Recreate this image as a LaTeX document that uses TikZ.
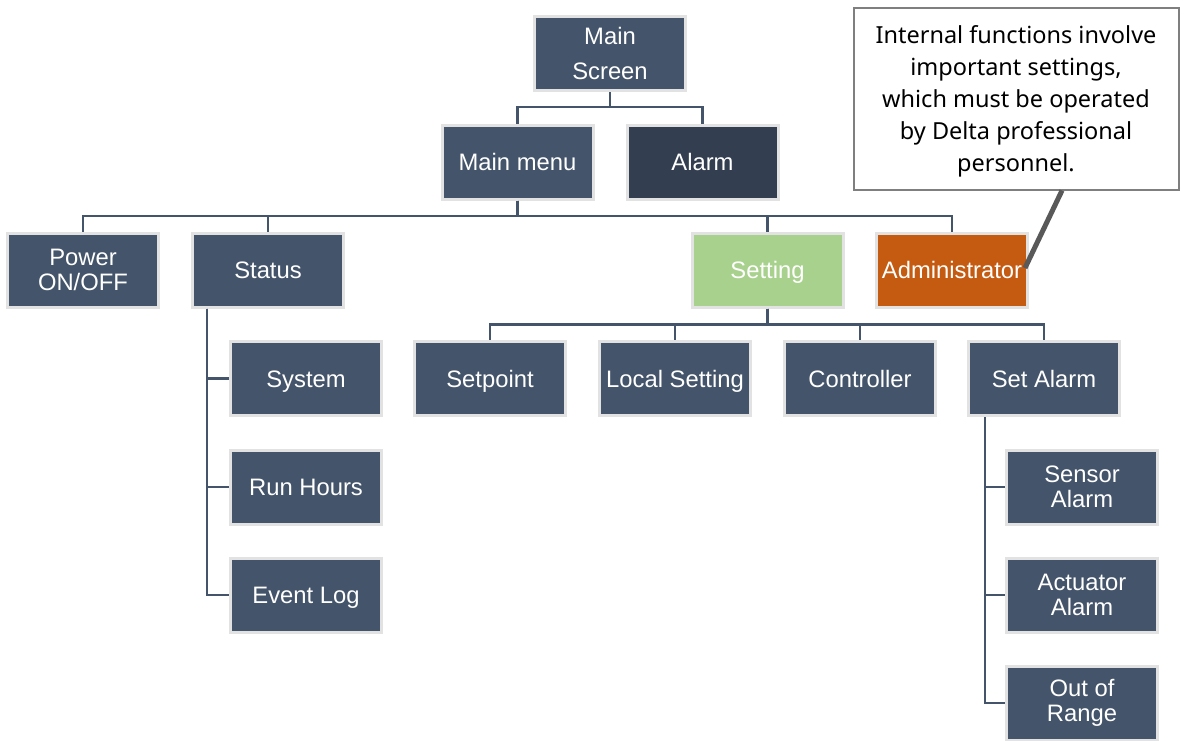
\documentclass[tikz,border=0pt]{standalone}
\usepackage{fontspec}
\newfontfamily\boxfont{Liberation Sans}
\newfontfamily\notefont{Noto Sans}
\definecolor{boxfill}{HTML}{44546A}
\definecolor{alarmfill}{HTML}{333F50}
\definecolor{boxborder}{HTML}{E2E2E2}
\definecolor{setfill}{HTML}{A9D18E}
\definecolor{adminfill}{HTML}{C55A11}
\definecolor{connline}{HTML}{44546A}
\definecolor{noteborder}{HTML}{7F7F7F}
\definecolor{noteline}{HTML}{595959}
\tikzset{
  box/.style={draw=boxborder, line width=3pt, fill=boxfill, text=white,
    minimum width=151pt, minimum height=74pt, inner sep=0pt, align=center,
    font=\boxfont\fontsize{23.8}{25}\selectfont},
  oneline/.style={box, text height=17pt, text depth=0pt},
  conn/.style={draw=connline, line width=2.6pt},
  notebox/.style={draw=noteborder, line width=2pt, fill=white, text=black,
    minimum width=325pt, minimum height=182pt, inner sep=0pt, align=center,
    font=\notefont\fontsize{23.5}{32}\selectfont}
}
\begin{document}
\begin{tikzpicture}[x=1pt,y=-1pt]
\useasboundingbox (0,0) rectangle (1184,740);
\clip (0,0) rectangle (1184,740);
\node[box, font=\boxfont\fontsize{23.8}{35}\selectfont] (ms) at (610,53.5) {Main\\Screen};
\node[oneline] (mm) at (517.5,162) {Main menu};
\node[oneline, fill=alarmfill] (al) at (702.5,162) {Alarm};
\node[box] (pw) at (83,270) {Power\\ON/OFF};
\node[oneline] (st) at (268,270) {Status};
\node[oneline, fill=setfill] (se) at (767.5,270) {Setting};
\node[oneline, fill=adminfill] (ad) at (952,270) {Administrator};
\node[oneline] (sy) at (306,378.5) {System};
\node[oneline] (rh) at (306,487) {Run Hours};
\node[oneline] (el) at (306,595) {Event Log};
\node[oneline] (sp) at (490,378.5) {Setpoint};
\node[oneline] (ls) at (675,378.5) {Local Setting};
\node[oneline] (co) at (860,378.5) {Controller};
\node[oneline] (sa) at (1044,378.5) {Set Alarm};
\node[box] (sn) at (1082,487) {Sensor\\Alarm};
\node[box] (ac) at (1082,595) {Actuator\\Alarm};
\node[box] (oor) at (1082,703) {Out of\\Range};
\node[notebox] (note) at (1016,98.5) {\raisebox{-1.5pt}[\dimexpr\height+1.5pt][\dimexpr\depth-1.5pt]{\parbox{320pt}{\centering Internal functions involve\\important settings,\\which must be operated\\by Delta professional\\personnel.}}};
% tree connectors
\draw[conn] (ms.south) -- ++(0,15) -| (mm.north);
\draw[conn] (ms.south) -- ++(0,15) -| (al.north);
\foreach \c in {pw,st,se,ad}{\draw[conn] (mm.south) -- ++(0,15.5) -| (\c.north);}
\foreach \c in {sp,ls,co,sa}{\draw[conn] (se.south) -- ++(0,16) -| (\c.north);}
\coordinate (sttrunk) at ([xshift=-61pt]st.south);
\foreach \c in {sy,rh,el}{\draw[conn] (sttrunk) |- (\c.west);}
\coordinate (satrunk) at ([xshift=-59pt]sa.south);
\foreach \c in {sn,ac,oor}{\draw[conn] (satrunk) |- (\c.west);}
\coordinate (notetip) at ([xshift=46pt]note.south);
\draw[draw=noteline, line width=5pt] (notetip) -- ([xshift=-4pt,yshift=2pt]ad.east);
\end{tikzpicture}
\end{document}
